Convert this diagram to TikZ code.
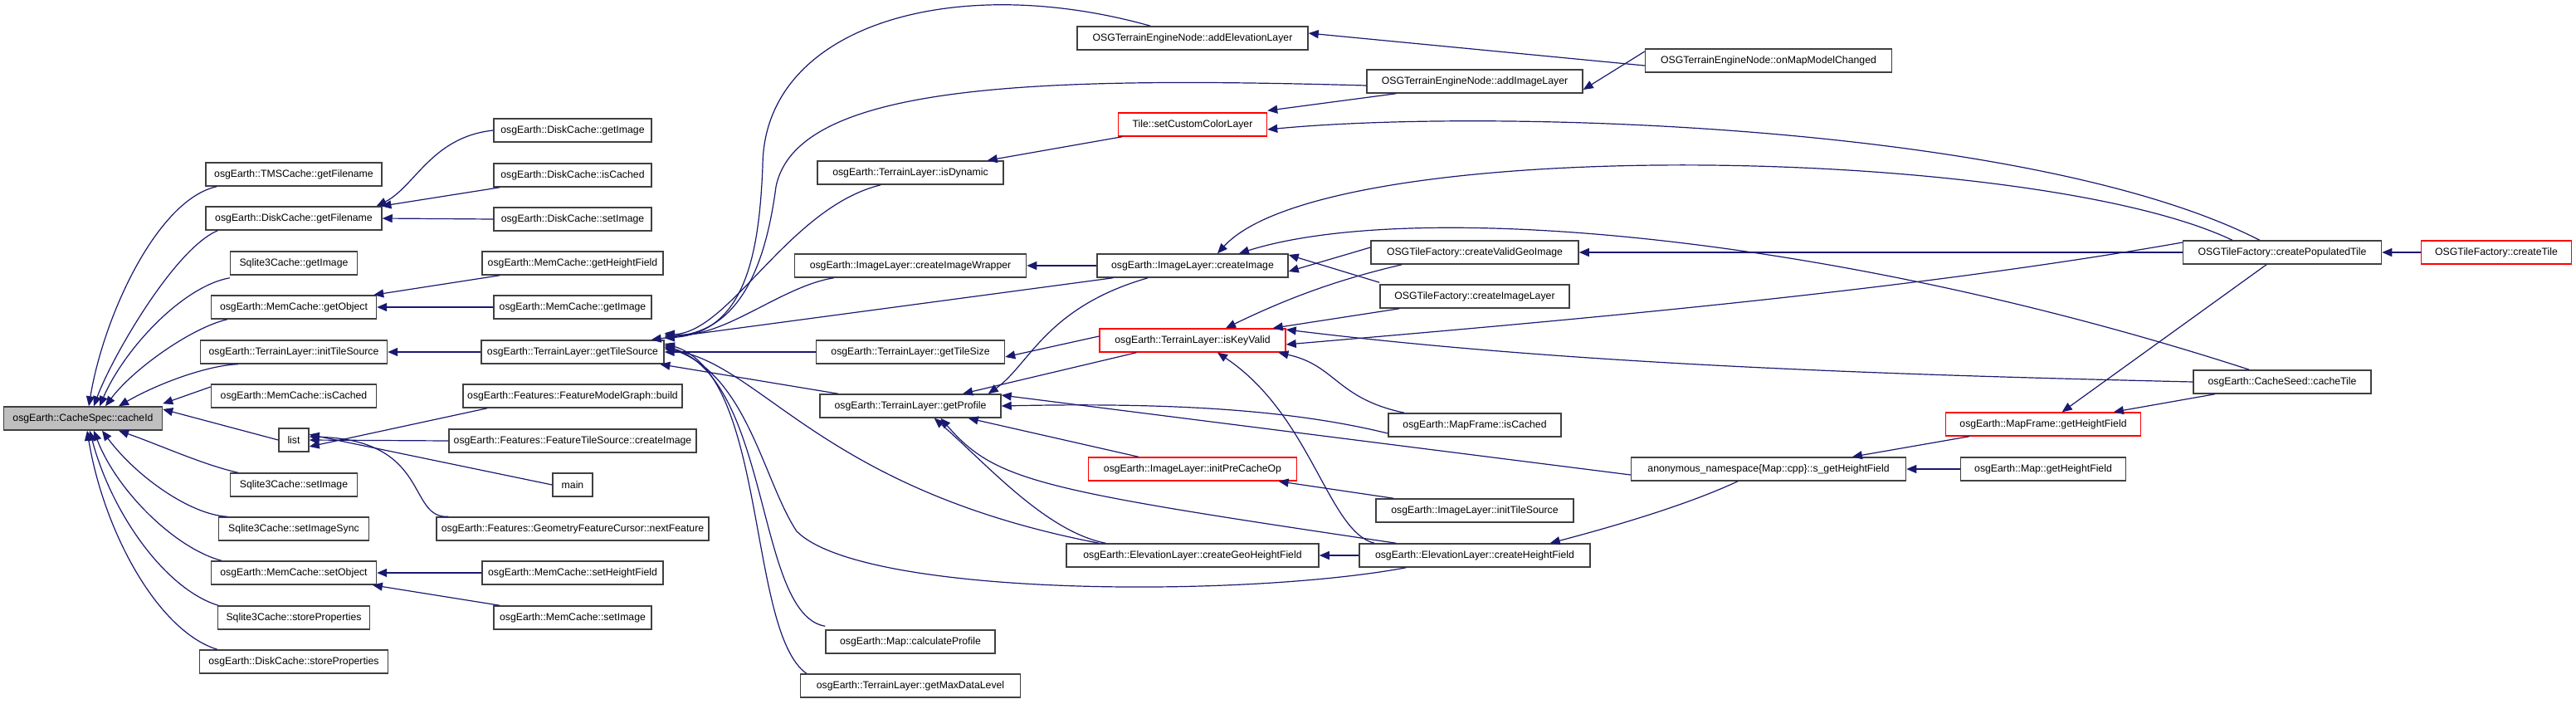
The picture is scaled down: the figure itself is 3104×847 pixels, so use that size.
\documentclass[tikz,border=0pt]{standalone}
\usepackage{fontspec}
\setmainfont{Liberation Sans}
\usetikzlibrary{arrows.meta}

\definecolor{callblue}{RGB}{25,25,112}
\definecolor{boxgray}{RGB}{64,64,64}
\definecolor{rootgray}{RGB}{191,191,191}

\tikzset{
  func/.style={draw=boxgray, line width=1.1pt, fill=white, text=black,
    inner xsep=4pt, inner ysep=0pt, minimum height=21pt,
    font=\fontsize{9.2}{11}\selectfont},
  funcred/.style={func, draw=red},
  funcroot/.style={func, fill=rootgray},
  call/.style={draw=callblue, line width=0.9pt,
    arrows={Triangle[length=9pt,width=7.5pt]-}},
}

\begin{document}
\begin{tikzpicture}[x=0.75pt,y=0.75pt,yscale=-1,xscale=1]
\useasboundingbox (0,0) rectangle (3104,847);

% Text Node: root
\node[funcroot, minimum width=143.25pt] (cacheId) at (100,504) {osgEarth::CacheSpec::cacheId};

% Text Node: callers, column 2
\node[func, minimum width=159pt] (tmsFilename) at (354,210) {osgEarth::TMSCache::getFilename};
\node[func, minimum width=159pt] (diskFilename) at (354,263) {osgEarth::DiskCache::getFilename};
\node[func, minimum width=114.75pt] (sqlGetImage) at (354,317) {Sqlite3Cache::getImage};
\node[func, minimum width=149.25pt] (memGetObject) at (354,370) {osgEarth::MemCache::getObject};
\node[func, minimum width=168.75pt] (tlInitTileSource) at (354,424) {osgEarth::TerrainLayer::initTileSource};
\node[func, minimum width=149.25pt] (memIsCached) at (354,477) {osgEarth::MemCache::isCached};
\node[func, minimum width=27pt] (list) at (354,530) {list};
\node[func, minimum width=114.75pt] (sqlSetImage) at (354,584) {Sqlite3Cache::setImage};
\node[func, minimum width=135.75pt] (sqlSetImageSync) at (354,637) {Sqlite3Cache::setImageSync};
\node[func, minimum width=149.25pt] (memSetObject) at (354,690) {osgEarth::MemCache::setObject};
\node[func, minimum width=137.25pt] (sqlStoreProps) at (354,744) {Sqlite3Cache::storeProperties};
\node[func, minimum width=170.25pt] (diskStoreProps) at (354,797) {osgEarth::DiskCache::storeProperties};

% Text Node: column 3
\node[func, minimum width=142.5pt] (diskGetImage) at (690,157) {osgEarth::DiskCache::getImage};
\node[func, minimum width=142.5pt] (diskIsCached) at (690,211) {osgEarth::DiskCache::isCached};
\node[func, minimum width=142.5pt] (diskSetImage) at (690,264) {osgEarth::DiskCache::setImage};
\node[func, minimum width=163.5pt] (memGetHeightField) at (690,317) {osgEarth::MemCache::getHeightField};
\node[func, minimum width=142.5pt] (memGetImage) at (690,370) {osgEarth::MemCache::getImage};
\node[func, minimum width=165pt] (getTileSource) at (690,424) {osgEarth::TerrainLayer::getTileSource};
\node[func, minimum width=198pt] (fmgBuild) at (690,477) {osgEarth::Features::FeatureModelGraph::build};
\node[func, minimum width=223.5pt] (ftsCreateImage) at (690,531) {osgEarth::Features::FeatureTileSource::createImage};
\node[func, minimum width=36pt] (main) at (690,584) {main};
\node[func, minimum width=246pt] (gfcNextFeature) at (690,637) {osgEarth::Features::GeometryFeatureCursor::nextFeature};
\node[func, minimum width=163.5pt] (memSetHeightField) at (690,690) {osgEarth::MemCache::setHeightField};
\node[func, minimum width=142.5pt] (memSetImage) at (690,744) {osgEarth::MemCache::setImage};

% Text Node: column 4
\node[func, minimum width=168pt] (isDynamic) at (1097,208) {osgEarth::TerrainLayer::isDynamic};
\node[func, minimum width=209.25pt] (createImageWrapper) at (1097,320) {osgEarth::ImageLayer::createImageWrapper};
\node[func, minimum width=170.25pt] (getTileSize) at (1097,424) {osgEarth::TerrainLayer::getTileSize};
\node[func, minimum width=163.5pt] (getProfile) at (1097,489) {osgEarth::TerrainLayer::getProfile};
\node[func, minimum width=153pt] (calculateProfile) at (1097,773) {osgEarth::Map::calculateProfile};
\node[func, minimum width=198.75pt] (getMaxDataLevel) at (1097,826) {osgEarth::TerrainLayer::getMaxDataLevel};

% Text Node: column 5
\node[func, minimum width=208.5pt] (addElevationLayer) at (1437,46) {OSGTerrainEngineNode::addElevationLayer};
\node[funcred, minimum width=134.25pt] (setCustomColorLayer) at (1437,150) {Tile::setCustomColorLayer};
\node[func, minimum width=172.5pt] (createImage) at (1437,320) {osgEarth::ImageLayer::createImage};
\node[funcred, minimum width=168pt] (isKeyValid) at (1437,410) {osgEarth::TerrainLayer::isKeyValid};
\node[funcred, minimum width=188.25pt] (initPreCacheOp) at (1437,565) {osgEarth::ImageLayer::initPreCacheOp};
\node[func, minimum width=228pt] (createGeoHeightField) at (1437,669) {osgEarth::ElevationLayer::createGeoHeightField};

% Text Node: column 6
\node[func, minimum width=195pt] (addImageLayer) at (1777,98) {OSGTerrainEngineNode::addImageLayer};
\node[func, minimum width=187.5pt] (createValidGeoImage) at (1777,304) {OSGTileFactory::createValidGeoImage};
\node[func, minimum width=171pt] (createImageLayer) at (1777,357) {OSGTileFactory::createImageLayer};
\node[func, minimum width=156pt] (mfIsCached) at (1777,512) {osgEarth::MapFrame::isCached};
\node[func, minimum width=178.5pt] (ilInitTileSource) at (1777,615) {osgEarth::ImageLayer::initTileSource};
\node[func, minimum width=208.5pt] (createHeightField) at (1777,669) {osgEarth::ElevationLayer::createHeightField};

% Text Node: columns 7 to 10
\node[func, minimum width=222.75pt] (onMapModelChanged) at (2131,73) {OSGTerrainEngineNode::onMapModelChanged};
\node[func, minimum width=248.25pt] (sGetHeightField) at (2131,565) {anonymous\_namespace\{Map::cpp\}::s\_getHeightField};
\node[funcred, minimum width=176.25pt] (mfGetHeightField) at (2462,511) {osgEarth::MapFrame::getHeightField};
\node[func, minimum width=149.25pt] (mapGetHeightField) at (2462,565) {osgEarth::Map::getHeightField};
\node[func, minimum width=179.25pt] (createPopulatedTile) at (2750,304) {OSGTileFactory::createPopulatedTile};
\node[func, minimum width=160.5pt] (cacheTile) at (2750,460) {osgEarth::CacheSeed::cacheTile};
\node[funcred, minimum width=135.75pt] (createTile) at (3008,304) {OSGTileFactory::createTile};

%Curve Lines: into the root
\draw[call] ([xshift=5.25pt]cacheId.north) .. controls (125,380) and (190,240) .. ([xshift=10.5pt]tmsFilename.south west);
\draw[call] ([xshift=9.75pt]cacheId.north) .. controls (135,430) and (210,300) .. ([xshift=11.25pt]diskFilename.south west);
\draw[call] ([xshift=15pt]cacheId.north) .. controls (150,420) and (220,345) .. ([yshift=2.25pt]sqlGetImage.south west);
\draw[call] ([xshift=20.25pt]cacheId.north) .. controls (160,445) and (230,395) .. ([xshift=15pt]memGetObject.south west);
\draw[call] ([xshift=32.25pt]cacheId.north) .. controls (190,462) and (250,440) .. ([xshift=34.5pt]tlInitTileSource.south west);
\draw[call] ([yshift=-2.25pt]cacheId.north east) -- ([yshift=-8.25pt]memIsCached.west);
\draw[call] ([yshift=-8.25pt]cacheId.east) -- (list.west);
\draw[call] ([xshift=32.25pt]cacheId.south) .. controls (190,535) and (245,560) .. ([xshift=7.5pt]sqlSetImage.north west);
\draw[call] ([xshift=17.25pt]cacheId.south) .. controls (165,575) and (230,620) .. ([xshift=8.25pt]sqlSetImageSync.north west);
\draw[call] ([xshift=9.75pt]cacheId.south) .. controls (140,590) and (210,660) .. ([xshift=9.75pt]memSetObject.north west);
\draw[call] ([xshift=6pt]cacheId.south) .. controls (135,620) and (200,710) .. ([xshift=1pt]sqlStoreProps.north west);
\draw[call] ([xshift=3.75pt]cacheId.south) .. controls (125,640) and (190,760) .. ([xshift=16.5pt]diskStoreProps.north west);

%Straight Lines: column 2 callers
\draw[call] ([xshift=-5.25pt]diskFilename.north east) .. controls (500,225) and (520,165) .. (diskGetImage.west);
\draw[call] ([xshift=-1pt]diskFilename.north east) -- ([xshift=6pt]diskIsCached.south west);
\draw[call] (diskFilename.east) -- (diskSetImage.west);
\draw[call] ([xshift=-3pt]memGetObject.north east) -- ([xshift=16.5pt]memGetHeightField.south west);
\draw[call] (memGetObject.east) -- (memGetImage.west);
\draw[call] (tlInitTileSource.east) -- (getTileSource.west);
\draw[call] ([yshift=6pt]list.east) -- ([xshift=22.5pt]fmgBuild.south west);
\draw[call] (list.east) -- (ftsCreateImage.west);
\draw[call] ([yshift=-5pt]list.east) -- (main.west);
\draw[call] ([yshift=-3pt]list.east) .. controls (520,530) and (490,625) .. ([xshift=11.25pt]gfcNextFeature.north west);
\draw[call] (memSetObject.east) -- (memSetHeightField.west);
\draw[call] ([xshift=-4pt]memSetObject.south east) -- ([xshift=6pt]memSetImage.north west);

%Curve Lines: into getTileSource
\draw[call] (getTileSource.east) -- (getTileSize.west);
\draw[call] ([xshift=-4pt]getTileSource.south east) -- ([xshift=17pt]getProfile.north west);
\draw[call] ([xshift=-12pt]getTileSource.north east) -- ([xshift=15pt]createImage.south west);
\draw[call] ([yshift=-1.5pt]getTileSource.north east) .. controls (900,400) and (915,300) .. (919,200) .. controls (920,30) and (1150,-35) .. ([xshift=66.75pt]addElevationLayer.north west);
\draw[call] ([yshift=-3pt]getTileSource.north east) .. controls (900,400) and (925,300) .. (935,225) .. controls (960,100) and (1250,92) .. ([yshift=3.75pt]addImageLayer.west);
\draw[call] ([yshift=-4.5pt]getTileSource.north east) .. controls (880,400) and (950,250) .. ([xshift=57.75pt]isDynamic.south west);
\draw[call] ([yshift=-6pt]getTileSource.north east) .. controls (870,410) and (940,345) .. ([xshift=36pt]createImageWrapper.south west);
\draw[call] ([yshift=-3pt]getTileSource.east) .. controls (920,440) and (990,590) .. ([xshift=30pt]createGeoHeightField.north west);
\draw[call] ([yshift=-4.5pt]getTileSource.east) .. controls (900,450) and (920,580) .. (960,640) .. controls (1040,720) and (1500,720) .. ([xshift=42.75pt]createHeightField.south west);
\draw[call] ([yshift=-6pt]getTileSource.east) .. controls (930,460) and (910,740) .. ([yshift=-3pt]calculateProfile.north west);
\draw[call] ([yshift=-7.5pt]getTileSource.east) .. controls (925,450) and (900,760) .. ([xshift=6pt]getMaxDataLevel.north west);

%Straight Lines: column 4 callers
\draw[call] ([xshift=-15pt]isDynamic.north east) -- ([xshift=4pt]setCustomColorLayer.south west);
\draw[call] (createImageWrapper.east) -- (createImage.west);
\draw[call] ([yshift=4.5pt]getTileSize.east) -- ([yshift=-3.75pt]isKeyValid.west);
\draw[call] ([xshift=-35pt]getProfile.north east) -- ([xshift=33.75pt]isKeyValid.south west);
\draw[call] ([xshift=-12pt]getProfile.north east) .. controls (1240,440) and (1260,370) .. ([xshift=46.5pt]createImage.south west);
\draw[call] (getProfile.east) .. controls (1400,485) and (1550,492) .. ([yshift=7.5pt]mfIsCached.west);
\draw[call] ([yshift=-9.75pt]getProfile.east) -- ([yshift=5.25pt]sGetHeightField.west);
\draw[call] ([xshift=-30pt]getProfile.south east) -- ([xshift=45.75pt]initPreCacheOp.north west);
\draw[call] ([xshift=-60.75pt]getProfile.south east) .. controls (1190,560) and (1260,640) .. ([xshift=36pt]createGeoHeightField.north west);
\draw[call] ([xshift=-55pt]getProfile.south east) .. controls (1200,580) and (1250,590) .. ([xshift=33.75pt]createHeightField.north west);

%Curve Lines: column 5 callers
\draw[call] ([yshift=-4.5pt]addElevationLayer.east) -- ([yshift=4.5pt]onMapModelChanged.west);
\draw[call] ([yshift=-1.5pt]setCustomColorLayer.north east) -- ([xshift=27pt]addImageLayer.south west);
\draw[call] ([yshift=4.5pt]setCustomColorLayer.east) .. controls (1800,130) and (2450,150) .. ([xshift=69.75pt]createPopulatedTile.north west);
\draw[call] ([xshift=22.5pt]createImage.north) .. controls (1600,160) and (2450,175) .. ([xshift=45pt]createPopulatedTile.north west);
\draw[call] ([xshift=42pt]createImage.north) .. controls (1700,240) and (2200,280) .. ([xshift=51pt]cacheTile.north west);
\draw[call] ([yshift=5.25pt]createImage.east) -- ([yshift=-4.5pt]createValidGeoImage.west);
\draw[call] ([yshift=-9.75pt]createImage.east) -- ([yshift=-1.5pt]createImageLayer.north west);
\draw[call] ([xshift=30pt]isKeyValid.north) .. controls (1560,355) and (1620,335) .. ([xshift=28.5pt]createValidGeoImage.south west);
\draw[call] ([xshift=-12pt]isKeyValid.north east) -- ([xshift=18pt]createImageLayer.south west);
\draw[call] ([yshift=3.75pt]isKeyValid.east) .. controls (1900,385) and (2300,350) .. ([yshift=-9pt]createPopulatedTile.west);
\draw[call] ([yshift=-9.75pt]isKeyValid.east) .. controls (1900,440) and (2300,452) .. (cacheTile.west);
\draw[call] ([xshift=-7pt]isKeyValid.south east) .. controls (1610,440) and (1610,480) .. ([xshift=15pt]mfIsCached.north west);
\draw[call] ([xshift=22.5pt]isKeyValid.south) .. controls (1580,500) and (1600,640) .. ([xshift=14pt]createHeightField.north west);
\draw[call] ([xshift=-17pt]initPreCacheOp.south east) -- ([xshift=16.5pt]ilInitTileSource.north west);
\draw[call] (createGeoHeightField.east) -- (createHeightField.west);

%Straight Lines: right part
\draw[call] ([yshift=7.5pt]addImageLayer.east) -- ([yshift=-8.25pt]onMapModelChanged.west);
\draw[call] ([xshift=-36.75pt]createHeightField.north east) .. controls (1960,630) and (2040,605) .. ([xshift=-27.75pt]sGetHeightField.south);
\draw[call] (createValidGeoImage.east) -- (createPopulatedTile.west);
\draw[call] ([xshift=-49pt]sGetHeightField.north east) -- ([xshift=21.75pt]mfGetHeightField.south west);
\draw[call] (sGetHeightField.east) -- (mapGetHeightField.west);
\draw[call] ([xshift=17pt]mfGetHeightField.north) -- ([xshift=-14.25pt]createPopulatedTile.south);
\draw[call] ([xshift=-25pt]mfGetHeightField.north east) -- ([xshift=20pt]cacheTile.south west);
\draw[call] (createPopulatedTile.east) -- (createTile.west);

\end{tikzpicture}
\end{document}
